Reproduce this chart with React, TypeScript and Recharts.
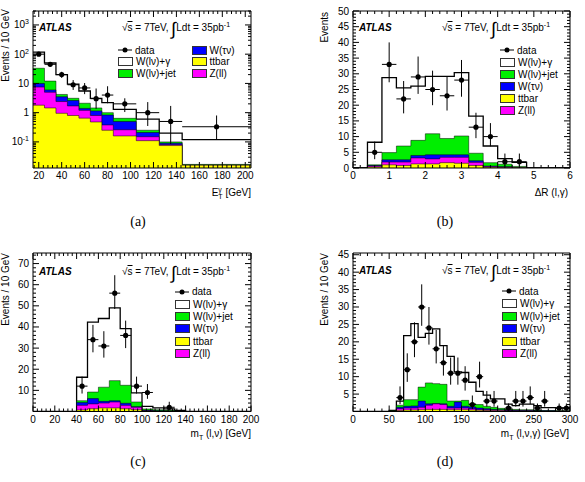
import React from 'react';
import { ComposedChart, Area, Scatter, ErrorBar, XAxis, YAxis, Legend } from 'recharts';

const FONT = '"Liberation Sans", Arial, Helvetica, sans-serif';

// legend / series names
const seriesNames: Record<string, string> = {
  data: 'data',
  wg: 'W(lν)+γ',
  jet: 'W(lν)+jet',
  tau: 'W(τν)',
  tt: 'ttbar',
  zll: 'Z(ll)',
};
const seriesColors: Record<string, string> = {
  wg: '#ffffff',
  jet: '#00ee00',
  tau: '#0000ff',
  tt: '#ffff00',
  zll: '#ff00ff',
};

// ---- (a) photon ET, log scale
const etEdges = [15, 25, 35, 45, 55, 65, 75, 85, 105, 125, 145, 205];
const etTtbar = [1.8, 1.45, 0.95, 0.8, 0.65, 0.48, 0.25, 0.16, 0.11, 0.075, 0.016];
const etZll = [5.7, 3.55, 1.45, 0.9, 0.55, 0.32, 0.13, 0.1, 0.04, 0.005, 0];
const etWtau = [2.5, 1.0, 1.1, 0.9, 0.2, 0.35, 0.45, 0.24, 0.06, 0.01, 0];
const etWjet = [23, 6.0, 0.7, 0.5, 0.7, 0.3, 0.17, 0.14, 0.04, 0.01, 0.001];
const etWgamma = [85, 38, 15.8, 6.4, 3.4, 1.65, 1.2, 0.66, 0.35, 0.1, 0.103];
const etDataX = [20, 30, 40, 50, 60, 70, 80, 95, 115, 135, 175];
const etDataHalf = [5, 5, 5, 5, 5, 5, 5, 10, 10, 10, 30];
const etData = [100, 45, 20, 9, 7, 3, 4, 2, 1, 0.5, 0.33];
const etDataLo = [90, 38, 15.5, 6, 4.3, 1.35, 2.1, 1.05, 0.35, 0.085, 0.12];
const etDataHi = [110, 52, 25, 13, 10.3, 6.7, 8, 3.1, 2.3, 1.7, 0.8];

// ---- (b) delta R
const drEdges = [0.4, 0.8, 1.2, 1.6, 2.0, 2.4, 2.8, 3.2, 3.6, 4.0, 4.4, 4.8];
const drTtbar = [0.3, 1.0, 0.8, 1.3, 1.3, 1.7, 1.5, 0.8, 0.2, 0.1, 0.05];
const drZll = [0.3, 0.9, 1.1, 1.9, 1.6, 1.7, 1.9, 1.0, 0.3, 0.2, 0.05];
const drWtau = [0.2, 0.7, 0.7, 0.8, 1.3, 0.8, 0.8, 0.5, 0.1, 0.1, 0.05];
const drWjet = [0.2, 2.3, 4.4, 4.8, 6.7, 5.2, 6.0, 2.4, 1.1, 0.8, 0.35];
const drWgamma = [7.2, 23.9, 18.5, 17.3, 18.3, 19.8, 20.2, 11.8, 5.3, 1.8, 1.3];
const drDataX = [0.6, 1.0, 1.4, 1.8, 2.2, 2.6, 3.0, 3.4, 3.8, 4.2, 4.6];
const drData = [5, 33, 22, 29, 25, 23, 28, 13, 10, 2, 2];
const drDataLo = [2.8, 27.3, 17.4, 23.6, 20, 18.3, 22.7, 9.5, 6.9, 0.7, 0.7];
const drDataHi = [8.4, 40, 27.7, 35.5, 31, 29, 34.4, 17.6, 14.3, 4.6, 4.6];

// ---- (c) mT(l,nu)
const mtEdges = [40, 50, 60, 70, 80, 90, 100, 110, 120, 130, 140];
const mtTtbar = [0.7, 1.3, 1.7, 1.7, 1.3, 0.8, 0.2, 0.1, 0.1, 0.05];
const mtZll = [2.2, 2.3, 2.3, 2.8, 1.6, 1.2, 0.2, 0.1, 0.1, 0.05];
const mtWtau = [1.3, 2.5, 0.8, 0.6, 1.0, 0.3, 0.2, 0.1, 0.05, 0.02];
const mtWjet = [0.9, 3.1, 6.7, 9.5, 8.5, 2.2, 0.6, 0.5, 0.35, 0.08];
const mtWgamma = [11.1, 33.1, 32.5, 34.4, 26.8, 4.3, 1.2, 0.9, 0.6, 0.3];
const mtDataX = [45, 55, 65, 75, 85, 95, 105, 125];
const mtData = [12, 34, 31, 56, 36, 12, 9, 2];
const mtDataLo = [8.5, 28, 25.5, 48.5, 30, 8.5, 6, 0.7];
const mtDataHi = [16.5, 41, 38, 64.5, 43, 16.5, 13, 4.6];

// ---- (d) mT(l,nu,gamma)
const mtgEdges = [50, 60, 70, 80, 90, 100, 110, 120, 130, 140, 150, 160, 170, 180, 190, 200, 210, 220, 230, 240, 250, 260, 270, 280, 290, 300];
const mtgTtbar = [0.05, 0.3, 0.4, 0.4, 0.5, 0.6, 0.6, 0.6, 0.5, 0.5, 0.5, 0.4, 0.35, 0.3, 0.25, 0.2, 0.15, 0.12, 0.1, 0.1, 0.08, 0.06, 0.06, 0.05, 0.05];
const mtgZll = [0.05, 0.5, 0.6, 0.6, 0.7, 1.2, 1.6, 1.4, 0.5, 0.5, 0.5, 0.4, 0.25, 0.2, 0.15, 0.15, 0.15, 0.13, 0.1, 0.1, 0.07, 0.06, 0.06, 0.05, 0.05];
const mtgWtau = [0.05, 0.4, 0.5, 0.6, 1.8, 0.4, 0.1, 0.2, 0.5, 1.7, 0.5, 0.5, 0.4, 0.3, 0.2, 0.15, 0.1, 0.1, 0.1, 0.1, 0.1, 0.08, 0.08, 0.05, 0.05];
const mtgWjet = [0.05, 0.6, 1.9, 1.8, 4.0, 6.0, 5.7, 5.6, 1.5, 0.3, 1.7, 0.9, 1.0, 0.7, 0.6, 0.4, 0.3, 0.25, 0.2, 0.2, 0.15, 0.1, 0.1, 0.05, 0.05];
const mtgWgamma = [0.1, 1.2, 18.4, 21.8, 14.3, 14.2, 15.7, 11.1, 12.8, 8.4, 8.0, 6.2, 3.8, 3.2, 2.4, 2.7, 1.4, 1.1, 1.6, 1.6, 1.3, 0.8, 0.8, 0.8, 0.8];
const mtgDataX = [65, 75, 85, 95, 105, 115, 125, 135, 145, 155, 165, 175, 185, 195, 215, 225, 235, 245, 255, 265, 285, 295];
const mtgData = [4, 12, 20, 30, 24, 18, 14, 11, 11, 9, 2, 10, 3, 3, 1, 3, 3, 4, 1, 3, 1, 1];
const mtgDataLo = [2.1, 8.5, 15.6, 24.6, 19.2, 13.8, 10.3, 7.7, 7.7, 6, 0.7, 6.9, 1.4, 1.4, 0.17, 1.4, 1.4, 2.1, 0.17, 1.4, 0.17, 0.17];
const mtgDataHi = [7.2, 16.7, 25.6, 36.5, 30, 23.4, 19, 15.5, 15.5, 13, 4.6, 14.3, 5.9, 5.9, 2.3, 5.9, 5.9, 7.2, 2.3, 5.9, 2.3, 2.3];

type Row = { x: number; [k: string]: number };

// cumulative stack, bottom first: ttbar, Z(ll), W(tau nu), W+jet, W+gamma
function buildRows(edges: number[], layers: number[][], from?: number, to?: number): Row[] {
  const keys = ['tt', 'zll', 'tau', 'jet', 'wg'];
  const zero = (x: number) => {
    const r: Row = { x };
    keys.forEach((k) => (r[k] = 0));
    return r;
  };
  const rows: Row[] = [];
  if (from !== undefined) rows.push(zero(from));
  for (let i = 0; i < edges.length - 1; i++) {
    const r: Row = { x: edges[i] };
    let acc = 0;
    layers.forEach((arr, k) => {
      acc += arr[i];
      r[keys[k]] = acc;
    });
    rows.push(r);
  }
  const last = edges[edges.length - 1];
  if (to !== undefined) {
    rows.push(zero(last));
    rows.push(zero(to));
  } else {
    rows.push({ ...rows[rows.length - 1], x: last });
  }
  return rows;
}

function buildPoints(xs: number[], ys: number[], lo: number[], hi: number[], half: number[] | number) {
  return xs.map((x, i) => ({
    x,
    y: ys[i],
    ex: Array.isArray(half) ? half[i] : half,
    ey: [ys[i] - lo[i], hi[i] - ys[i]],
  }));
}

const range = (a: number, b: number, s: number) => {
  const out: number[] = [];
  for (let v = a; v <= b + s * 1e-6; v += s) out.push(Math.round(v * 1e6) / 1e6);
  return out;
};
const logTicks = (lo: number, hi: number) => {
  const out: number[] = [];
  for (let e = -2; e <= 3; e++)
    for (let k = 1; k <= 9; k++) {
      const v = +(k * Math.pow(10, e)).toPrecision(6);
      if (v >= lo && v <= hi) out.push(v);
    }
  return out;
};

const isIn = (list: number[], v: number) =>
  list.some((m) => Math.abs(m - v) <= 1e-6 * Math.max(1, Math.abs(m)));

interface AxisSpec {
  domain: [number, number];
  ticks: number[];
  majors: number[];
  labels: number[];
  fmt?: (v: number) => React.ReactNode;
}

const tickRenderer = (side: 'bottom' | 'top' | 'left' | 'right', spec: AxisSpec) => (props: any) => {
  const { x, y, payload } = props;
  const v = payload.value as number;
  const len = isIn(spec.majors, v) ? 6 : 3;
  let x2 = x;
  let y2 = y;
  if (side === 'bottom') y2 = y - len;
  else if (side === 'top') y2 = y + len;
  else if (side === 'left') x2 = x + len;
  else x2 = x - len;
  const show = isIn(spec.labels, v);
  const txt = spec.fmt ? spec.fmt(v) : String(v);
  return (
    <g>
      <line x1={x} y1={y} x2={x2} y2={y2} stroke="#000" strokeWidth={1} />
      {show && side === 'bottom' && (
        <text x={x} y={y + 11} textAnchor="middle" fontSize={10} fontFamily={FONT} fill="#000">
          {txt}
        </text>
      )}
      {show && side === 'left' && (
        <text x={x - 4} y={y + 3.5} textAnchor="end" fontSize={10} fontFamily={FONT} fill="#000">
          {txt}
        </text>
      )}
    </g>
  );
};

const fmtPow = (v: number): React.ReactNode => {
  if (Math.abs(v - 1) < 1e-9) return '1';
  if (Math.abs(v - 10) < 1e-9) return '10';
  const e = Math.round(Math.log10(v));
  return (
    <>
      10<tspan dy={-4} fontSize={7}>{e}</tspan>
    </>
  );
};

const DataDot = (props: any) => <circle cx={props.cx} cy={props.cy} r={2.6} fill="#000" />;

function LegendSymbol({ k }: { k: string }) {
  if (k === 'data') {
    return (
      <svg width={14} height={8} style={{ display: 'block' }}>
        <line x1={0} y1={4} x2={14} y2={4} stroke="#000" strokeWidth={1} />
        <circle cx={7} cy={4} r={2.5} fill="#000" />
      </svg>
    );
  }
  return (
    <div
      style={{
        width: 13,
        height: 7,
        border: '1px solid #333',
        background: seriesColors[k],
        boxSizing: 'content-box',
      }}
    />
  );
}

function HistLegend({ columns, rowH, colW }: { columns: string[][]; rowH: number; colW: number }) {
  return (
    <div style={{ display: 'flex', fontFamily: FONT, fontSize: 10, color: '#000' }}>
      {columns.map((col, ci) => (
        <div key={ci} style={{ width: colW }}>
          {col.map((k) => (
            <div key={k} style={{ height: rowH, display: 'flex', alignItems: 'center', whiteSpace: 'nowrap' }}>
              <LegendSymbol k={k} />
              <span style={{ marginLeft: 3 }}>{seriesNames[k]}</span>
            </div>
          ))}
        </div>
      ))}
    </div>
  );
}

interface PanelProps {
  left: number;
  top: number;
  width: number;
  height: number;
  plot: { left: number; top: number; right: number; bottom: number };
  rows: Row[];
  points: { x: number; y: number; ex: number; ey: number[] }[];
  xs: AxisSpec;
  ys: AxisSpec;
  logY?: boolean;
  legend: { left: number; top: number; rowH: number; colW: number; columns: string[][] };
  atlas: { left: number; top: number };
  energy: { left: number; top: number };
  yTitle: { left: number; top: number; text: React.ReactNode };
  xTitle: { right: number; cy: number; text: React.ReactNode };
  caption: { cx: number; cy: number; text: string };
}

function HistPanel(p: PanelProps) {
  const stackOrder = ['wg', 'jet', 'tau', 'zll', 'tt'];
  // every axis is 1px deep, so the margins sit 1px outside the plot frame
  const margin = {
    top: p.plot.top - 1,
    left: p.plot.left - 1,
    right: p.width - p.plot.right - 1,
    bottom: p.height - p.plot.bottom - 1,
  };
  const yScale = p.logY ? 'log' : 'linear';
  return (
    <>
      <div style={{ position: 'absolute', left: p.left, top: p.top }}>
        <ComposedChart width={p.width} height={p.height} data={p.rows} margin={margin}>
          <XAxis
            xAxisId="b"
            dataKey="x"
            type="number"
            domain={p.xs.domain}
            allowDataOverflow
            ticks={p.xs.ticks}
            interval={0}
            height={1}
            tickSize={0}
            tickMargin={0}
            tickLine={false}
            axisLine={{ stroke: '#000', strokeWidth: 1 }}
            tick={tickRenderer('bottom', p.xs)}
          />
          <XAxis
            xAxisId="t"
            orientation="top"
            dataKey="x"
            type="number"
            domain={p.xs.domain}
            allowDataOverflow
            ticks={p.xs.ticks}
            interval={0}
            height={1}
            tickSize={0}
            tickMargin={0}
            tickLine={false}
            axisLine={{ stroke: '#000', strokeWidth: 1 }}
            tick={tickRenderer('top', p.xs)}
          />
          <YAxis
            yAxisId="l"
            type="number"
            scale={yScale}
            domain={p.ys.domain}
            allowDataOverflow
            ticks={p.ys.ticks}
            interval={0}
            width={1}
            tickSize={0}
            tickMargin={0}
            tickLine={false}
            axisLine={{ stroke: '#000', strokeWidth: 1 }}
            tick={tickRenderer('left', p.ys)}
          />
          <YAxis
            yAxisId="r"
            orientation="right"
            type="number"
            scale={yScale}
            domain={p.ys.domain}
            allowDataOverflow
            ticks={p.ys.ticks}
            interval={0}
            width={1}
            tickSize={0}
            tickMargin={0}
            tickLine={false}
            axisLine={{ stroke: '#000', strokeWidth: 1 }}
            tick={tickRenderer('right', p.ys)}
          />
          {stackOrder.map((k) => (
            <Area
              key={k}
              xAxisId="b"
              yAxisId="l"
              type="stepAfter"
              dataKey={k}
              stroke="#000"
              strokeWidth={k === 'wg' ? 1.3 : 0.5}
              fill={seriesColors[k]}
              fillOpacity={1}
              dot={false}
              activeDot={false}
              isAnimationActive={false}
            />
          ))}
          <Scatter
            xAxisId="b"
            yAxisId="l"
            data={p.points}
            dataKey="y"
            shape={DataDot}
            isAnimationActive={false}
          >
            <ErrorBar dataKey="ey" direction="y" width={0} stroke="#000" strokeWidth={1} />
            <ErrorBar dataKey="ex" direction="x" width={0} stroke="#000" strokeWidth={1} />
          </Scatter>
          <Legend
            layout="vertical"
            align="center"
            verticalAlign="middle"
            wrapperStyle={{ left: p.legend.left, top: p.legend.top }}
            content={() => (
              <HistLegend columns={p.legend.columns} rowH={p.legend.rowH} colW={p.legend.colW} />
            )}
          />
        </ComposedChart>
        <div
          style={{
            position: 'absolute',
            left: p.atlas.left,
            top: p.atlas.top,
            fontFamily: FONT,
            fontSize: 10,
            fontWeight: 'bold',
            fontStyle: 'italic',
            lineHeight: '12px',
          }}
        >
          ATLAS
        </div>
        <div
          style={{
            position: 'absolute',
            left: p.energy.left,
            top: p.energy.top,
            fontFamily: FONT,
            fontSize: 10,
            lineHeight: '12px',
            whiteSpace: 'nowrap',
          }}
        >
          √<span style={{ textDecoration: 'overline' }}>s</span> = 7TeV,{' '}
          <span style={{ fontSize: 18, lineHeight: '12px', verticalAlign: -4 }}>∫</span>Ldt = 35pb
          <sup style={{ fontSize: 7, lineHeight: 0 }}>-1</sup>
        </div>
      </div>
      <div
        style={{
          position: 'absolute',
          left: p.yTitle.left,
          top: p.yTitle.top,
          fontFamily: FONT,
          fontSize: 10,
          lineHeight: '12px',
          writingMode: 'vertical-rl',
          transform: 'rotate(180deg)',
          whiteSpace: 'nowrap',
        }}
      >
        {p.yTitle.text}
      </div>
      <div
        style={{
          position: 'absolute',
          left: p.xTitle.right,
          top: p.xTitle.cy,
          transform: 'translate(-100%, -50%)',
          fontFamily: FONT,
          fontSize: 10,
          lineHeight: '12px',
          whiteSpace: 'nowrap',
        }}
      >
        {p.xTitle.text}
      </div>
      <div
        style={{
          position: 'absolute',
          left: p.caption.cx,
          top: p.caption.cy,
          transform: 'translate(-50%, -50%)',
          fontFamily: '"Liberation Serif", "DejaVu Serif", serif',
          fontSize: 14,
        }}
      >
        {p.caption.text}
      </div>
    </>
  );
}

const allLayers = (a: number[], b: number[], c: number[], d: number[], e: number[]) => [a, b, c, d, e];

export default function App() {
  const etRows = buildRows(etEdges, allLayers(etTtbar, etZll, etWtau, etWjet, etWgamma));
  const drRows = buildRows(drEdges, allLayers(drTtbar, drZll, drWtau, drWjet, drWgamma), 0, 6);
  const mtRows = buildRows(mtEdges, allLayers(mtTtbar, mtZll, mtWtau, mtWjet, mtWgamma), 0, 200);
  const mtgRows = buildRows(mtgEdges, allLayers(mtgTtbar, mtgZll, mtgWtau, mtgWjet, mtgWgamma), 0, 300);

  const fullLegend = [['data', 'wg', 'jet', 'tau', 'tt', 'zll']];

  return (
    <div
      style={{
        position: 'absolute',
        left: 0,
        top: 0,
        width: 585,
        height: 482,
        background: '#fff',
        overflow: 'hidden',
      }}
    >
      <HistPanel
        left={0}
        top={0}
        width={260}
        height={200}
        plot={{ left: 33, top: 11, right: 251, bottom: 168 }}
        rows={etRows}
        points={buildPoints(etDataX, etData, etDataLo, etDataHi, etDataHalf)}
        logY
        xs={{ domain: [15, 205], ticks: range(16, 204, 4), majors: range(20, 200, 20), labels: range(20, 200, 20) }}
        ys={{
          domain: [0.0128, 3000],
          ticks: logTicks(0.0128, 3000),
          majors: [0.1, 1, 10, 100, 1000],
          labels: [0.1, 1, 10, 100, 1000],
          fmt: fmtPow,
        }}
        legend={{ left: 118, top: 44.5, rowH: 11.5, colW: 73.5, columns: [['data', 'wg', 'jet'], ['tau', 'tt', 'zll']] }}
        atlas={{ left: 39, top: 22 }}
        energy={{ left: 122, top: 22 }}
        yTitle={{ left: 0, top: 9, text: 'Events / 10 GeV' }}
        xTitle={{
          right: 251,
          cy: 193,
          text: (
            <>
              E
              <span
                style={{
                  display: 'inline-flex',
                  flexDirection: 'column',
                  fontSize: 7,
                  lineHeight: '7px',
                  verticalAlign: 'middle',
                }}
              >
                <span>γ</span>
                <span>T</span>
              </span>{' '}
              [GeV]
            </>
          ),
        }}
        caption={{ cx: 138, cy: 222, text: '(a)' }}
      />
      <HistPanel
        left={292}
        top={0}
        width={293}
        height={200}
        plot={{ left: 61, top: 11, right: 278, bottom: 168 }}
        rows={drRows}
        points={buildPoints(drDataX, drData, drDataLo, drDataHi, 0.2)}
        xs={{ domain: [0, 6], ticks: range(0, 6, 0.2), majors: range(0, 6, 1), labels: range(0, 6, 1) }}
        ys={{ domain: [0, 50], ticks: range(0, 50, 1), majors: range(0, 50, 5), labels: range(0, 50, 5) }}
        legend={{ left: 208, top: 44, rowH: 12, colW: 80, columns: fullLegend }}
        atlas={{ left: 67, top: 22 }}
        energy={{ left: 150, top: 22 }}
        yTitle={{ left: 319, top: 12, text: 'Events' }}
        xTitle={{ right: 568, cy: 193, text: 'ΔR (l,γ)' }}
        caption={{ cx: 445, cy: 222, text: '(b)' }}
      />
      <HistPanel
        left={0}
        top={240}
        width={260}
        height={200}
        plot={{ left: 33, top: 13, right: 251, bottom: 171.5 }}
        rows={mtRows}
        points={buildPoints(mtDataX, mtData, mtDataLo, mtDataHi, 5)}
        xs={{ domain: [0, 200], ticks: range(0, 200, 4), majors: range(0, 200, 20), labels: range(0, 200, 20) }}
        ys={{ domain: [0, 75], ticks: range(0, 74, 2), majors: range(0, 70, 10), labels: range(10, 70, 10) }}
        legend={{ left: 175, top: 45.5, rowH: 12.4, colW: 80, columns: fullLegend }}
        atlas={{ left: 39, top: 25.5 }}
        energy={{ left: 122, top: 25.5 }}
        yTitle={{ left: 0, top: 253, text: 'Events / 10 GeV' }}
        xTitle={{
          right: 251,
          cy: 434,
          text: (
            <>
              m<sub style={{ fontSize: 7, lineHeight: 0 }}>T</sub> (l,ν) [GeV]
            </>
          ),
        }}
        caption={{ cx: 138, cy: 462, text: '(c)' }}
      />
      <HistPanel
        left={292}
        top={240}
        width={293}
        height={200}
        plot={{ left: 61, top: 13, right: 278, bottom: 171.5 }}
        rows={mtgRows}
        points={buildPoints(mtgDataX, mtgData, mtgDataLo, mtgDataHi, 5)}
        xs={{ domain: [0, 300], ticks: range(0, 300, 10), majors: range(0, 300, 50), labels: range(0, 300, 50) }}
        ys={{ domain: [0, 45.5], ticks: range(0, 45, 1), majors: range(0, 45, 5), labels: range(5, 45, 5) }}
        legend={{ left: 210, top: 45, rowH: 12.5, colW: 80, columns: fullLegend }}
        atlas={{ left: 67, top: 24.5 }}
        energy={{ left: 150, top: 24.5 }}
        yTitle={{ left: 319, top: 253, text: 'Events / 10 GeV' }}
        xTitle={{
          right: 569,
          cy: 434,
          text: (
            <>
              m<sub style={{ fontSize: 7, lineHeight: 0 }}>T</sub> (l,ν,γ) [GeV]
            </>
          ),
        }}
        caption={{ cx: 445, cy: 462, text: '(d)' }}
      />
    </div>
  );
}
